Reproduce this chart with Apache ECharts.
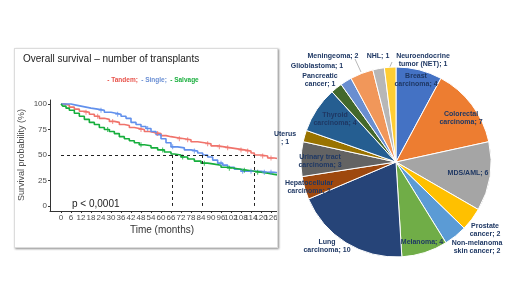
<!DOCTYPE html>
<html>
<head>
<meta charset="utf-8">
<script src="https://cdn.jsdelivr.net/npm/echarts@6/dist/echarts.min.js"></script>
<style>
  body { margin: 0; background: #fff; width: 520px; height: 292px; overflow: hidden; position: relative; }
  #panel { position: absolute; left: 14px; top: 48px; width: 262px; height: 198px; border: 1px solid #dcdcdc;
           box-shadow: 1px 1px 2px rgba(0,0,0,0.45); overflow: hidden; background: #fff; }
  #surv { position: absolute; left: 0; top: 0; width: 300px; height: 198px; }
  #pie { position: absolute; left: 0; top: 0; width: 520px; height: 292px; pointer-events: none; }
</style>
</head>
<body>
<div id="panel"><div id="surv"></div></div>
<div id="pie"></div>
<script>
// 生存曲线数据 [月, 生存率%]
var tandem = [[0,100],[2,99],[5,97],[8,95],[11,93],[14,92],[17,90],[20,88],[23,86],[26,85],[29,83],[32,82],
  [35,80],[38,79],[41,77],[44,76],[47,75],[50,73],[53,72],[56,71],[60,69],[63,68],[66,67],[70,66],[74,65],
  [78,63],[82,62],[86,61],[90,59],[94,58],[98,57],[102,56],[106,55],[110,54],[114,52],[116,50],[120,49],
  [124,47],[128,46],[132,45]];
var single = [[0,100],[3,100],[6,99],[9,98],[12,97],[15,96],[18,95],[22,94],[26,92],[30,91],[33,90],[36,88],
  [39,86],[42,82],[45,80],[48,78],[51,76],[54,73],[57,70],[60,66],[63,62],[66,58],[70,57],[74,55],[78,54],
  [82,52],[85,50],[88,48],[91,45],[94,42],[97,40],[100,38],[104,36],[108,34],[112,34],[116,34],[120,33],
  [124,33],[128,32],[132,31]];
var salvage = [[0,100],[1,98],[3,96],[5,94],[8,91],[11,88],[14,85],[17,82],[20,80],[23,77],[26,75],[29,73],
  [32,71],[35,68],[38,66],[41,64],[44,62],[47,60],[50,59],[54,57],[58,55],[62,53],[66,51],[68,50],[72,48],
  [76,46],[80,44],[84,42],[88,41],[92,40],[96,38],[100,37],[104,36],[108,35],[112,34],[116,33],[120,32],
  [124,31],[128,30],[132,29]];
// 删失点
var tandemCens = [[15,92],[22,88],[31,83],[48,75],[58,71],[71,66],[76,65],[88,61],[95,58],[100,57],[108,55],[112,54],[121,49],[126,47]];
var singleCens = [[24,94],[34,90],[52,76],[67,58],[80,54],[96,42],[109,34],[114,34],[122,33],[126,33]];
var salvageCens = [[28,75],[48,60],[61,55],[73,48],[86,42],[101,37],[110,35],[118,33]];
var medians = [67, 85, 116];
var xTicks = [0,6,12,18,24,30,36,42,48,54,60,66,72,78,84,90,96,102,108,114,120,126,132];
var yTicks = [0,25,50,75,100];

// 饼图数据
var tumours = ['Breast\ncarcinoma', 'Colorectal\ncarcinoma', 'MDS/AML', 'Prostate\ncancer', 'Non-melanoma\nskin cancer',
  'Melanoma', 'Lung\ncarcinoma', 'Hepatocellular\ncarcinoma', 'Urinary tract\ncarcinoma', 'Uterus\n',
  'Thyroid\ncarcinoma', 'Pancreatic\ncancer', 'Glioblastoma', 'Meningeoma', 'NHL', 'Neuroendocrine\ntumor (NET)'];
var counts = [4, 7, 6, 2, 2, 4, 10, 2, 3, 1, 4, 1, 1, 2, 1, 1];

var pieColors = ['#4472C4', '#ED7D31', '#A5A5A5', '#FFC000', '#5B9BD5', '#70AD47', '#264478', '#9E480E',
  '#636363', '#997300', '#255E91', '#43682B', '#698ED0', '#F1975A', '#B7B7B7', '#FFCD33'];
// 标签位置（像素）
var labelPos = [[416,80],[461,118],[468,173],[485,230],[477,247],[422,242],[327,246],[309,187],
  [320,161],[285,138],[335,119],[320,80],[317,66],[333,56],[378,56],[423,60]];

var plusSym = 'path://M4,0h2v4h4v2h-4v4h-2v-4h-4v-2h4z';
var red = '#F0736B', blue = '#6190EC', green = '#16AE3C';

function curve(name, data, color) {
  return { name: name, type: 'line', step: 'end', data: data, showSymbol: false,
    lineStyle: { color: color, width: 1.6 }, itemStyle: { color: color }, z: 3 };
}
function cens(data, color) {
  return { type: 'scatter', data: data, symbol: plusSym, symbolSize: 5,
    itemStyle: { color: color }, z: 4 };
}

function setSurv(ident) {
  var chart = echarts.init(document.getElementById(ident));
  var ml = [[{ coord: [0, 50] }, { coord: [medians[2], 50] }]];
  medians.forEach(function (m) { ml.push([{ coord: [m, 50] }, { coord: [m, 0] }]); });
  var axisTxt = { fontFamily: 'Liberation Sans', fontSize: 8, color: '#4d4d4d' };
  var first = curve('Tandem', tandem, red);
  first.markLine = { silent: true, symbol: 'none', label: { show: false },
    lineStyle: { color: '#222', type: [3, 3], width: 1 }, data: ml };
  chart.setOption({
    animation: false,
    textStyle: { fontFamily: 'Liberation Sans' },
    grid: { left: 35, top: 51, width: 246, height: 111 },
    xAxis: { type: 'value', min: -6.6, max: 141, splitLine: { show: false },
      axisLine: { show: true, onZero: false, lineStyle: { color: '#333' } },
      axisTick: { show: true, customValues: xTicks, length: 2, lineStyle: { color: '#333' } },
      axisLabel: Object.assign({ customValues: xTicks, margin: 3 }, axisTxt) },
    yAxis: { type: 'value', min: -5, max: 104, splitLine: { show: false },
      axisLine: { show: true, onZero: false, lineStyle: { color: '#333' } },
      axisTick: { show: true, customValues: yTicks, length: 2, lineStyle: { color: '#333' } },
      axisLabel: Object.assign({ customValues: yTicks, margin: 3 }, axisTxt) },
    graphic: [
      { type: 'text', left: 8, top: 5, style: { text: 'Overall survival \u2013 number of transplants',
        fontFamily: 'Liberation Sans', fontSize: 10, fill: '#222' } },
      { type: 'text', x: 138, y: 31, style: { text: '{r|- Tandem;} {b|- Single;} {g|- Salvage}',
        align: 'center', verticalAlign: 'middle',
        rich: { r: { fill: '#E8524A', fontSize: 6.5, fontWeight: 'bold', fontFamily: 'Liberation Sans' },
                b: { fill: '#6A8FD4', fontSize: 6.5, fontWeight: 'bold', fontFamily: 'Liberation Sans' },
                g: { fill: '#1DB040', fontSize: 6.5, fontWeight: 'bold', fontFamily: 'Liberation Sans' } } } },
      { type: 'text', x: 7, y: 106, rotation: Math.PI / 2, style: { text: 'Survival probability (%)',
        align: 'center', verticalAlign: 'middle', fontFamily: 'Liberation Sans', fontSize: 9, fill: '#4d4d4d' } },
      { type: 'text', x: 147, y: 181, style: { text: 'Time (months)', align: 'center', verticalAlign: 'middle',
        fontFamily: 'Liberation Sans', fontSize: 10, fill: '#333' } },
      { type: 'text', x: 57, y: 155, style: { text: 'p < 0,0001', align: 'left', verticalAlign: 'middle',
        fontFamily: 'Liberation Sans', fontSize: 10, fill: '#222' } }
    ],
    series: [first, curve('Single', single, blue), curve('Salvage', salvage, green),
      cens(tandemCens, red), cens(singleCens, blue), cens(salvageCens, green)]
  });
}

function setPie(ident) {
  var chart = echarts.init(document.getElementById(ident));
  var data = tumours.map(function (n, i) {
    return { name: n, value: counts[i], itemStyle: { color: pieColors[i] } };
  });
  chart.setOption({
    animation: false,
    graphic: [
      { type: 'polyline', shape: { points: [[355, 59], [361, 72]] }, style: { stroke: '#999', lineWidth: 0.7 } },
      { type: 'polyline', shape: { points: [[392, 62], [389, 69]] }, style: { stroke: '#999', lineWidth: 0.7 } }
    ],
    series: [{
      type: 'pie', center: [396, 162], radius: 95, startAngle: 90, clockwise: true,
      data: data,
      itemStyle: { borderColor: '#fff', borderWidth: 1 },
      label: { show: true, position: 'inside', overflow: 'none',
        formatter: function (p) { return p.name + '; ' + p.value; },
        fontFamily: 'Liberation Sans', fontSize: 7, fontWeight: 'bold', color: '#1F3864', lineHeight: 8, align: 'center' },
      labelLine: { show: false },
      labelLayout: function (params) {
        var p = labelPos[params.dataIndex];
        return { x: p[0], y: p[1], align: 'center', verticalAlign: 'middle' };
      }
    }]
  });
}

setSurv('surv');
setPie('pie');
</script>
</body>
</html>
